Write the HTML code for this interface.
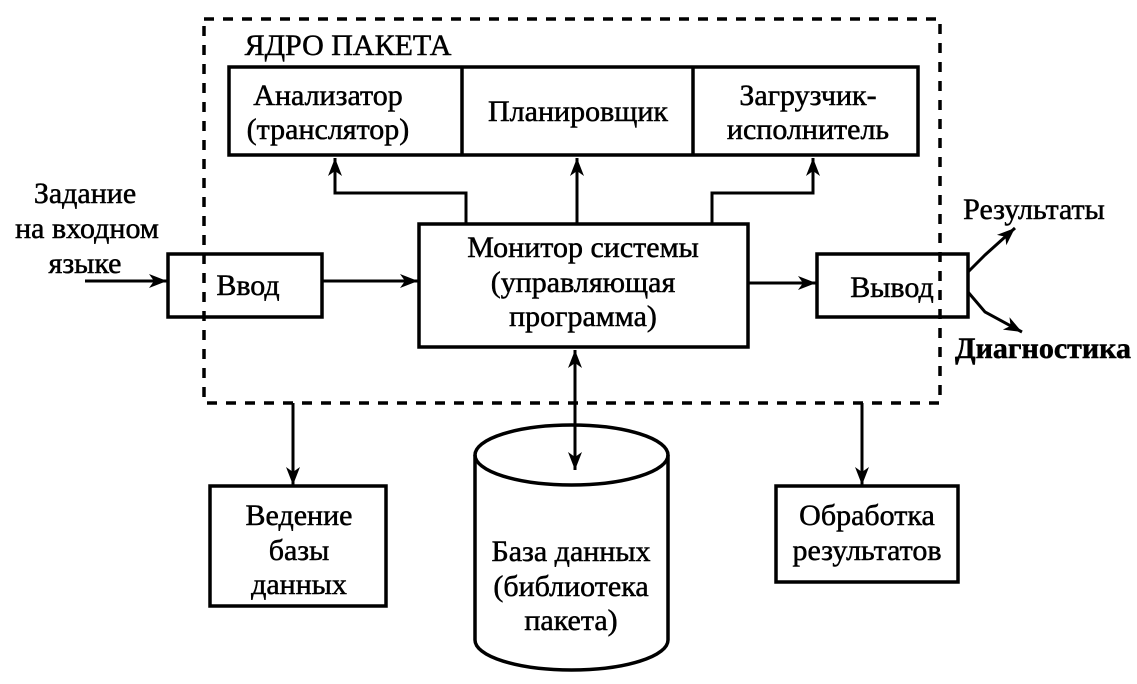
<!DOCTYPE html>
<html><head><meta charset="utf-8"><style>
body{margin:0;background:#fff}
svg text{font-family:"Liberation Serif",serif;font-size:30px;fill:#000;stroke:#000;stroke-width:0.5;text-anchor:middle}
</style></head><body>
<svg width="1137" height="679" viewBox="0 0 1137 679" xmlns="http://www.w3.org/2000/svg">
<defs>
<marker id="b" viewBox="-2 -8 22 16" refX="18" refY="0" markerWidth="22" markerHeight="16" orient="auto-start-reverse" markerUnits="userSpaceOnUse"><path d="M0,-7 L18,0 L0,7 L5,0z" fill="#000"/></marker></defs>
<g fill="none" stroke="#000" stroke-width="3.5">
<rect x="204" y="19" width="736" height="384" stroke-dasharray="10,9"/>
<rect x="229" y="67" width="689" height="88"/>
<line x1="462" y1="67" x2="462" y2="155"/><line x1="693" y1="67" x2="693" y2="155"/>
<rect x="419" y="224" width="329" height="123"/>
<rect x="168" y="254" width="154" height="63"/>
<rect x="817" y="254" width="151" height="63"/>
<rect x="210" y="486" width="176" height="120"/>
<rect x="776" y="486" width="182" height="96"/>
<path d="M475,455 L475,640 A96.5,30 0 0 0 668,640 L668,455"/>
<ellipse cx="571.5" cy="455" rx="96.5" ry="30"/>
<g stroke-width="3">
<polyline points="466,224 466,193 335,193 335,158" marker-end="url(#b)"/>
<line x1="577" y1="224" x2="577" y2="158" marker-end="url(#b)"/>
<polyline points="712,224 712,193 813,193 813,158" marker-end="url(#b)"/>
<line x1="322" y1="281" x2="418" y2="281" marker-end="url(#b)"/>
<line x1="748" y1="283" x2="816" y2="283" marker-end="url(#b)"/>
<line x1="85" y1="281" x2="167" y2="281" marker-end="url(#b)"/>
<line x1="575" y1="350" x2="575" y2="470" marker-start="url(#b)" marker-end="url(#b)"/>
<line x1="293" y1="403" x2="293" y2="485" marker-end="url(#b)"/>
<line x1="862" y1="403" x2="862" y2="485" marker-end="url(#b)"/>
<polyline points="968,272 985,255 1015,228" marker-end="url(#b)"/>
<polyline points="968,292 985,312 1022,332" marker-end="url(#b)"/>
</g></g>
<text x="348" y="55">ЯДРО ПАКЕТА</text>
<text x="328" y="105">Анализатор</text><text x="328" y="139">(транслятор)</text>
<text x="578" y="121">Планировщик</text>
<text x="808" y="105">Загрузчик-</text><text x="808" y="139">исполнитель</text>
<text x="583" y="257">Монитор системы</text>
<text x="583" y="292">(управляющая</text>
<text x="583" y="326">программа)</text>
<text x="248" y="295">Ввод</text>
<text x="892" y="297">Вывод</text>
<text x="85" y="203">Задание</text><text x="87" y="238">на входном</text><text x="85" y="273">языке</text>
<text x="1034" y="219">Результаты</text>
<text x="1043" y="358" style="font-weight:bold">Диагностика</text>
<text x="299" y="525">Ведение</text><text x="299" y="560">базы</text><text x="299" y="594">данных</text>
<text x="571" y="561">База данных</text><text x="571" y="596">(библиотека</text><text x="571" y="630">пакета)</text>
<text x="867" y="525">Обработка</text><text x="867" y="560">результатов</text>
</svg>
</body></html>
